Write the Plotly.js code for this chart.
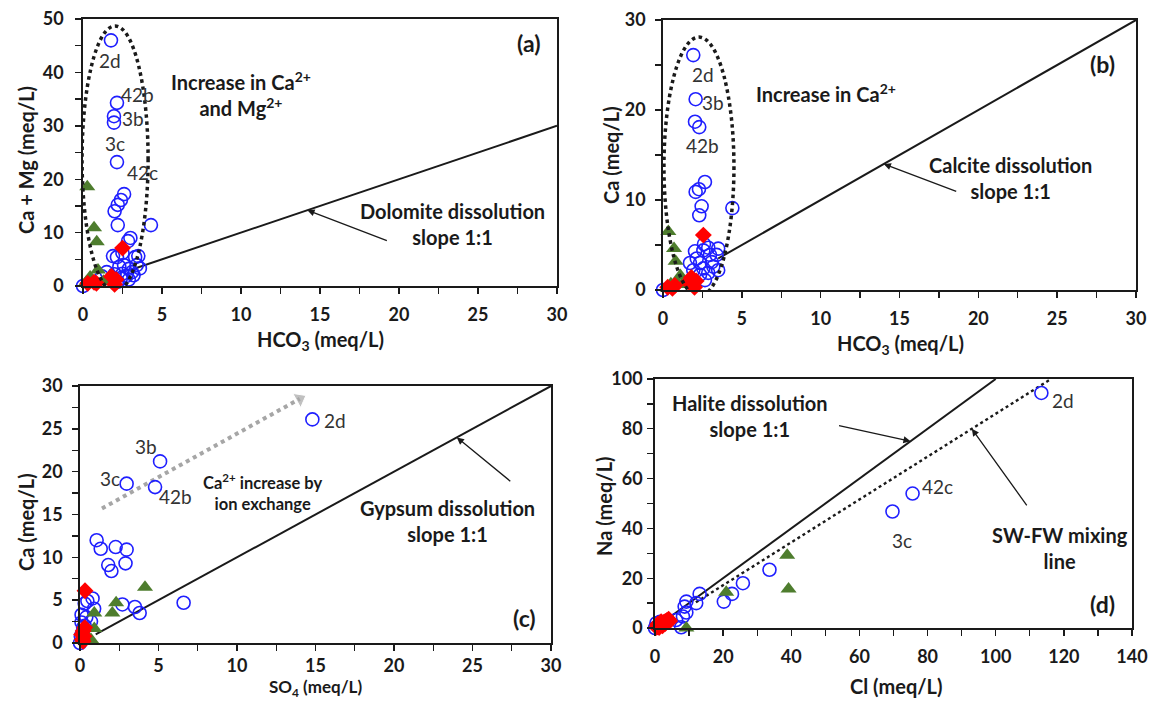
<!DOCTYPE html>
<html>
<head>
<meta charset="utf-8">
<script src="https://cdn.plot.ly/plotly-3.0.1.min.js"></script>
<style>
html, body { margin: 0; padding: 0; background: #ffffff; }
#chart { width: 1149px; height: 701px; }
</style>
</head>
<body>
<div id="chart"></div>
<script>
// ---------- (a) Ca + Mg vs HCO3 ----------
const aBlueHCO3 = [0, 1.77, 2.15, 1.96, 1.96, 2.15, 2.6, 2.4, 2.2, 2.0, 2.2, 4.3, 3.0, 2.85, 1.9, 2.15, 2.5, 3.3, 3.5,
  2.3, 2.6, 2.9, 3.1, 2.5, 2.75, 2.4, 1.5, 3.2, 3.4, 1.2, 2.0, 2.9, 2.2, 3.6];
const aBlueCaMg = [0, 46.0, 34.3, 31.8, 30.6, 23.2, 17.2, 16.1, 15.2, 14.0, 11.4, 11.4, 9.0, 8.4, 5.6, 5.4, 6.2, 5.4, 5.6,
  3.6, 3.9, 3.2, 2.6, 2.3, 1.9, 1.5, 2.6, 2.0, 3.9, 1.8, 2.2, 1.2, 0.8, 3.3];
const aGreenHCO3 = [0.27, 0.7, 0.87, 0.95, 0.45, 0.6, 0.2, 1.3, 1.6];
const aGreenCaMg = [18.6, 10.9, 8.3, 3.0, 1.7, 0.3, 0.7, 0.9, 1.3];
const aRedHCO3 = [0.3, 0.7, 0.85, 1.8, 2.0, 2.5, 2.1];
const aRedCaMg = [0.5, 0.7, 0.5, 1.8, 0.3, 7.1, 1.2];
const dolomiteX = [3, 30];
const dolomiteY = [3, 30];

// ---------- (b) Ca vs HCO3 ----------
const bBlueHCO3 = [0, 1.92, 2.07, 2.03, 2.3, 2.66, 2.28, 2.07, 2.45, 2.3, 4.4, 2.6,
  2.03, 2.56, 2.87, 3.5, 2.14, 2.98, 3.4, 1.71, 2.35, 3.09, 1.92, 2.56, 3.19, 2.87, 3.5, 2.35, 2.66];
const bBlueCa = [0, 26.1, 21.2, 18.7, 18.1, 12.0, 11.2, 10.9, 9.3, 8.3, 9.1, 5.1,
  4.3, 4.4, 4.7, 4.6, 3.5, 3.9, 3.9, 3.0, 3.0, 3.1, 2.2, 2.4, 2.6, 1.9, 2.2, 1.7, 1.1];
const bGreenHCO3 = [0.34, 0.7, 0.8, 1.1, 0.5, 1.2, 0.9, 0.3];
const bGreenCa = [6.5, 4.6, 3.2, 1.6, 0.7, 0.6, 0.9, 0.2];
const bRedHCO3 = [2.56, 1.8, 2.0, 0.75, 0.3, 1.6, 0.6, 2.1];
const bRedCa = [6.1, 1.4, 0.3, 0.5, 0.3, 0.9, 0.2, 1.0];
const calciteX = [3.5, 30];
const calciteY = [3.5, 30];

// ---------- (c) Ca vs SO4 ----------
const cBlueSO4 = [0, 14.8, 5.1, 2.97, 4.78, 1.06, 1.32, 2.27, 2.97, 1.8, 2.0, 2.9, 2.7, 3.5, 3.8, 6.6,
  0.8, 0.47, 0.3, 0.9, 0.1, 0.4, 0.1, 0.7, 0.2, 0.15, 0.3, 0.05];
const cBlueCa = [0, 26.1, 21.2, 18.6, 18.2, 12.0, 11.0, 11.2, 10.9, 9.1, 8.4, 9.3, 4.5, 4.2, 3.5, 4.7,
  5.2, 4.9, 4.6, 4.0, 3.3, 3.0, 2.4, 2.5, 1.8, 1.2, 2.0, 0.8];
const cGreenSO4 = [4.14, 2.3, 2.06, 0.91, 0.91, 0.5, 0.3, 0.7];
const cGreenCa = [6.5, 4.7, 3.5, 3.5, 1.7, 0.7, 0.3, 0.4];
const cRedSO4 = [0.32, 0.2, 0.15, 0.1, 0.25, 0.2, 0.3];
const cRedCa = [6.1, 1.4, 0.4, 1.0, 0.8, 0.2, 1.8];
const gypsumX = [1, 30];
const gypsumY = [1, 30];
const exchangeX = [1.4, 14];
const exchangeY = [15.7, 28.5];

// ---------- (d) Na vs Cl ----------
const dBlueCl = [0, 0.4, 113.4, 75.6, 69.7, 33.6, 25.8, 22.6, 20.2, 13.1, 12.1, 9.2, 8.7, 9.2, 8.2, 6.2, 7.7, 1, 2, 1.5];
const dBlueNa = [0, 1.9, 94.4, 54.0, 46.8, 23.4, 18.0, 13.7, 10.6, 13.7, 10.0, 10.6, 8.6, 6.2, 4.6, 3.2, 0.3, 1, 1.5, 2.5];
const dGreenCl = [20.9, 38.8, 39.2, 9.2, 1, 2];
const dGreenNa = [14.4, 29.2, 15.7, 0, 0.5, 1];
const dRedCl = [0.5, 1, 1.5, 2, 2.5, 3, 3.5, 4, 1.2, 2.2, 3, 0.8, 1.8, 4.3];
const dRedNa = [0.3, 0.8, 1.2, 1.6, 2.2, 2.6, 3.0, 3.5, 0.2, 0.9, 1.8, 1.5, 2.5, 2.8];
const haliteX = [4, 100];
const haliteY = [4, 100];
const mixingX = [12, 116];
const mixingY = [10.3, 99.8];

// ---------- styling ----------
const W = 1149, H = 701;
const FONT = 'Lato, "Open Sans", sans-serif';
const INK = '#1a1a1a';
const BLUE = '#1f1fff', GREEN = '#4e7d2e', RED = '#ff0000';

function blue(x, y, xa, ya) {
  return {x, y, xaxis: xa, yaxis: ya, type: 'scatter', mode: 'markers', cliponaxis: false, showlegend: false,
    marker: {symbol: 'circle-open', size: 13, color: BLUE, line: {width: 1.6, color: BLUE}}};
}
function green(x, y, xa, ya) {
  return {x, y, xaxis: xa, yaxis: ya, type: 'scatter', mode: 'markers', cliponaxis: false, showlegend: false,
    marker: {symbol: 'triangle-up', size: 14, color: GREEN}};
}
function red(x, y, xa, ya) {
  return {x, y, xaxis: xa, yaxis: ya, type: 'scatter', mode: 'markers', cliponaxis: false, showlegend: false,
    marker: {symbol: 'diamond', size: 13, color: RED}};
}
function line(x, y, xa, ya, dash) {
  return {x, y, xaxis: xa, yaxis: ya, type: 'scatter', mode: 'lines', showlegend: false,
    line: {color: INK, width: dash ? 2.4 : 2, dash: dash || 'solid'}};
}

const traces = [
  line(dolomiteX, dolomiteY, 'x', 'y'),
  blue(aBlueHCO3, aBlueCaMg, 'x', 'y'),
  green(aGreenHCO3, aGreenCaMg, 'x', 'y'),
  red(aRedHCO3, aRedCaMg, 'x', 'y'),

  line(calciteX, calciteY, 'x2', 'y2'),
  blue(bBlueHCO3, bBlueCa, 'x2', 'y2'),
  green(bGreenHCO3, bGreenCa, 'x2', 'y2'),
  red(bRedHCO3, bRedCa, 'x2', 'y2'),

  line(gypsumX, gypsumY, 'x3', 'y3'),
  {x: exchangeX, y: exchangeY, xaxis: 'x3', yaxis: 'y3', type: 'scatter', mode: 'lines+markers', showlegend: false,
    line: {color: '#a6a6a6', width: 4, dash: 'dot'},
    marker: {symbol: 'triangle-up', size: [0, 14], color: '#a6a6a6', angleref: 'previous'}},
  blue(cBlueSO4, cBlueCa, 'x3', 'y3'),
  green(cGreenSO4, cGreenCa, 'x3', 'y3'),
  red(cRedSO4, cRedCa, 'x3', 'y3'),

  line(haliteX, haliteY, 'x4', 'y4'),
  line(mixingX, mixingY, 'x4', 'y4', 'dot'),
  blue(dBlueCl, dBlueNa, 'x4', 'y4'),
  green(dGreenCl, dGreenNa, 'x4', 'y4'),
  red(dRedCl, dRedNa, 'x4', 'y4')
];

function axis(px0, px1, range, dtick, minor, anchor, vertical, standoff) {
  const dom = vertical ? [1 - px1 / H, 1 - px0 / H] : [px0 / W, px1 / W];
  return {
    domain: dom, range, dtick, tick0: 0, anchor, fixedrange: true,
    ticks: 'outside', ticklen: 6, tickwidth: 1.4, tickcolor: INK,
    ticklabelstandoff: standoff, ticklabeloverflow: 'allow',
    showline: true, linecolor: INK, linewidth: 1.7, mirror: true,
    showgrid: false, zeroline: false,
    tickfont: {family: FONT, size: 18, weight: 'bold', color: INK},
    minor: {dtick: minor, ticks: 'outside', ticklen: 6, tickwidth: 1.4, tickcolor: INK, showgrid: false}
  };
}

// text placed by pixel position on the page
function T(text, px, py, opts) {
  const base = {text, xref: 'paper', yref: 'paper', x: px / W, y: 1 - py / H, showarrow: false,
    xanchor: 'center', yanchor: 'middle',
    font: {family: FONT, size: 20, weight: 'bold', color: INK}};
  return Object.assign(base, opts || {});
}
function L(text, px, py) {
  return T(text, px, py, {font: {family: FONT, size: 19, color: '#333333'}});
}
function P(text, px, py) {
  return T(text, px, py, {font: {family: FONT, size: 23, weight: 'bold', color: INK}});
}
function arrow(xr, yr, hx, hy, ax, ay) {
  return {text: '', xref: xr, yref: yr, x: hx, y: hy, ax, ay, axref: 'pixel', ayref: 'pixel',
    showarrow: true, arrowhead: 2, arrowsize: 1.1, arrowwidth: 1.3, arrowcolor: INK};
}

const annotations = [
  // (a)
  T('Increase in Ca<sup>2+</sup><br>and Mg<sup>2+</sup>', 241, 94),
  T('Dolomite dissolution<br>slope 1:1', 452, 224),
  arrow('x', 'y', 14.2, 14.2, 81, 31),
  P('(a)', 528, 43),
  L('2d', 110, 61), L('42b', 137, 95), L('3b', 133, 118), L('3c', 115, 143), L('42c', 142, 172),
  T('HCO<sub>3</sub> (meq/L)', 320, 340),
  T('Ca + Mg (meq/L)', 26, 160, {textangle: -90}),

  // (b)
  T('Increase in Ca<sup>2+</sup>', 826, 93),
  T('Calcite dissolution<br>slope 1:1', 1010, 178),
  arrow('x2', 'y2', 14, 14, 74, 28),
  P('(b)', 1102, 64),
  L('2d', 703, 74), L('3b', 713, 103), L('42b', 702, 146),
  T('HCO<sub>3</sub> (meq/L)', 900, 344),
  T('Ca (meq/L)', 611, 155, {textangle: -90}),

  // (c)
  T('Ca<sup>2+</sup> increase by<br>ion exchange', 262, 492, {font: {family: FONT, size: 16.5, weight: 'bold', color: INK}}),
  T('Gypsum dissolution<br>slope 1:1', 447, 521),
  arrow('x3', 'y3', 24, 24, 55, 45),
  P('(c)', 524, 618),
  L('3b', 146, 446), L('3c', 110, 478), L('42b', 175, 496), L('2d', 335, 420),
  T('SO<sub>4</sub> (meq/L)', 315, 688, {font: {family: FONT, size: 17, weight: 'bold', color: INK}}),
  T('Ca (meq/L)', 26, 522, {textangle: -90}),

  // (d)
  T('Halite dissolution<br>slope 1:1', 750, 416),
  arrow('x4', 'y4', 75, 75, -73, -16),
  T('SW-FW mixing<br>line', 1060, 548),
  arrow('x4', 'y4', 93, 80, 56, 78),
  P('(d)', 1102, 604),
  L('2d', 1063, 401), L('42c', 937, 486), L('3c', 902, 540),
  T('Cl (meq/L)', 896, 686),
  T('Na (meq/L)', 604, 506, {textangle: -90})
];

const ellipse = (xr, yr, x0, x1, y0, y1) => ({type: 'circle', xref: xr, yref: yr, x0, x1, y0, y1,
  line: {color: INK, width: 3.5, dash: 'dot'}});

const layout = {
  width: W, height: H,
  margin: {l: 0, r: 0, t: 0, b: 0},
  paper_bgcolor: '#ffffff', plot_bgcolor: '#ffffff',
  showlegend: false,
  font: {family: FONT, color: INK},
  xaxis: axis(83, 557, [0, 30], 5, 2.5, 'y', false, 6),
  yaxis: axis(19, 286, [0, 50], 10, 5, 'x', true, 8),
  xaxis2: axis(663, 1136, [0, 30], 5, 2.5, 'y2', false, 6),
  yaxis2: axis(20, 290, [0, 30], 10, 5, 'x2', true, 6),
  xaxis3: axis(80, 551, [0, 30], 5, 2.5, 'y3', false, 0),
  yaxis3: axis(386, 643, [0, 30], 5, 2.5, 'x3', true, 6),
  xaxis4: axis(655, 1132, [0, 140], 20, 10, 'y4', false, 6),
  yaxis4: axis(379, 628, [0, 100], 20, 10, 'x4', true, 1),
  shapes: [
    ellipse('x', 'y', -0.06, 4.12, -1.1, 48.7),
    ellipse('x2', 'y2', 0.06, 4.5, -0.7, 28.1)
  ],
  annotations
};

Plotly.newPlot('chart', traces, layout, {staticPlot: true, displayModeBar: false});
</script>
</body>
</html>
